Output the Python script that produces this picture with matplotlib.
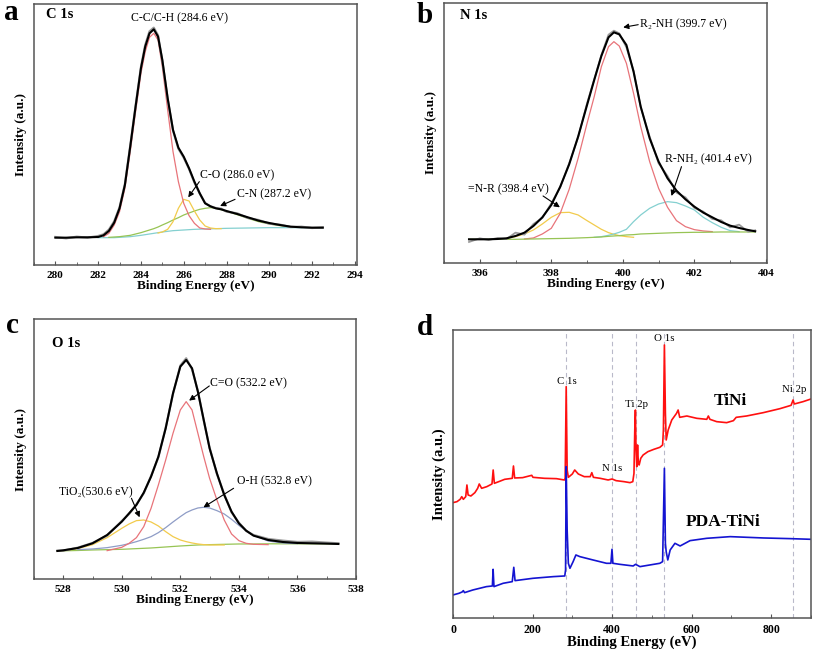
import numpy as np
import matplotlib
matplotlib.use('Agg')
import matplotlib.pyplot as plt
from matplotlib.ticker import MultipleLocator

plt.rcParams['font.family'] = ['Liberation Serif', 'DejaVu Serif']

# ---------------- (a) C 1s ----------------
be_a = [280.0, 280.5, 281.0, 281.5, 282.0, 282.25, 282.5, 282.75, 283.0, 283.25, 283.5, 283.75,
        284.0, 284.2, 284.4, 284.6, 284.8, 285.0, 285.25, 285.5, 285.75, 286.0, 286.25, 286.5,
        286.75, 287.0, 287.25, 287.5, 287.75, 288.0, 288.5, 289.0, 289.5, 290.0, 290.5, 291.0,
        291.5, 292.0, 292.5]
raw_a = [84, 80, 85, 82, 87, 92, 106, 131, 173, 243, 358, 478, 594, 660, 701, 712, 689, 612, 498,
         403, 349, 322, 288, 247, 214, 186, 176, 171, 169, 160, 155, 141, 135, 124, 121, 114, 115,
         111, 113]
fit_a = [82, 82, 83, 83, 84, 89, 102, 127, 170, 240, 355, 475, 590, 655, 695, 707, 685, 615, 500,
         405, 352, 325, 290, 250, 215, 185, 176, 170, 167, 162, 153, 143, 133, 126, 120, 115, 113,
         112, 112]
cc_a = [85, 95, 120, 160, 230, 340, 460, 575, 640, 683, 695, 675, 595, 465, 340, 250, 185, 148,
        125, 111, 108, 107]                      # starts at be_a[5]
co_a = [96, 99, 107, 130, 170, 197, 192, 162, 135, 117, 111, 109, 109]   # starts at be_a[16]
cn_a = [83, 84, 85, 87, 89, 93, 97, 101, 105, 109, 114, 120, 127, 135, 142, 150, 156, 162, 167,
        170, 172, 170, 166, 161, 151, 140, 130, 123, 118, 115]          # starts at be_a[6]
bg_a = [82, 82, 82, 82, 83, 84, 85, 87, 89, 91, 93, 95, 97, 99, 101, 103, 104, 105, 106, 107,
        107.5, 108, 108.5, 109, 109.5, 110, 110.5, 111, 111.5, 112, 112, 112, 112, 112, 112]  # be_a[4]

# ---------------- (b) N 1s ----------------
be_b = [395.7, 396.0, 396.25, 396.5, 396.75, 397.0, 397.25, 397.5, 397.75, 398.0, 398.25, 398.5,
        398.75, 399.0, 399.2, 399.4, 399.6, 399.75, 399.9, 400.1, 400.3, 400.5, 400.75, 401.0,
        401.25, 401.5, 401.75, 402.0, 402.25, 402.5, 402.75, 403.0, 403.25, 403.5, 403.7]
raw_b = [64, 75, 70, 76, 73, 92, 86, 118, 136, 180, 228, 300, 378, 480, 552, 625, 686, 698, 690,
         648, 578, 468, 380, 300, 262, 212, 198, 166, 155, 133, 129, 108, 116, 95, 99]
fit_b = [72, 72, 72, 73, 75, 82, 92, 112, 138, 175, 230, 297, 380, 475, 550, 622, 678, 693, 687,
         655, 575, 470, 375, 305, 255, 218, 192, 170, 152, 138, 124, 113, 106, 100, 96]
r2nh_b = [73, 76, 88, 105, 150, 222, 315, 420, 500, 590, 650, 665, 652, 600, 510, 410, 305, 225,
          168, 128, 110, 101, 97, 95]            # starts at be_b[6]
nr_b = [75, 80, 88, 100, 118, 138, 152, 153, 145, 128, 115, 102, 92, 87, 83, 80, 78]  # be_b[4]
rnh2_b = [78, 80, 84, 88, 93, 102, 125, 145, 165, 178, 185, 182, 172, 160, 138, 122, 108, 98,
          95]                                    # starts at be_b[14]
bg_b = [72, 72, 72, 72, 72, 72, 72.5, 73, 73.5, 74, 74.5, 75, 76, 77, 78, 79, 81, 82, 83, 85, 86,
        88, 89, 90, 91, 92, 92.5, 93, 93, 93.5, 94, 94, 94, 94, 94]

# ---------------- (c) O 1s ----------------
be_c = [527.8, 528.0, 528.5, 529.0, 529.5, 530.0, 530.25, 530.5, 530.75, 531.0, 531.25, 531.5,
        531.75, 532.0, 532.2, 532.4, 532.6, 532.8, 533.0, 533.25, 533.5, 533.75, 534.0, 534.25,
        534.5, 535.0, 535.5, 536.0, 536.5, 537.0, 537.4]
raw_c = [86, 86, 95, 109, 131, 175, 196, 225, 258, 310, 366, 455, 556, 641, 663, 630, 565, 476,
         395, 316, 255, 201, 170, 145, 133, 121, 116, 112, 113, 110, 108]
fit_c = [85, 87, 94, 108, 133, 173, 198, 223, 260, 308, 368, 453, 558, 638, 658, 633, 563, 478,
         393, 318, 253, 203, 168, 146, 131, 118, 112, 109, 108, 107, 106]
co_c = [86, 96, 108, 125, 158, 213, 283, 358, 438, 508, 533, 508, 438, 368, 303, 238, 178, 136,
        116, 108, 105, 104]                      # starts at be_c[4]
tio2_c = [85, 86, 92, 104, 125, 153, 166, 176, 178, 172, 160, 143, 128, 118, 113, 109, 106, 104,
          103, 103, 103]                         # starts at be_c[0]
oh_c = [89, 91, 95, 102, 107, 113, 120, 128, 140, 155, 172, 188, 200, 208, 214, 216, 214, 206,
        196, 180, 162, 145, 132, 115, 109, 107]  # starts at be_c[2]
bg_c = [85, 85.5, 86.5, 88, 89, 90, 91, 92, 93, 94, 95.5, 97, 98.5, 100, 101, 102, 103, 103.5,
        104, 104.5, 105, 105.5, 106, 106, 106, 106.5, 106.5, 106.5, 106.5, 106.5, 106.5]

# ---------------- (d) survey ----------------
be_tini = [0, 10, 18, 22, 26, 32, 35, 38, 45, 55, 62, 66, 72, 85, 98, 101, 104, 115, 130, 149,
           152, 155, 175, 198, 201, 230, 260, 280, 282, 284.6, 287, 290, 300, 306, 315, 330, 345,
           349, 353, 370, 390, 400, 410, 430, 445, 452, 455, 457, 458.6, 460, 462, 464, 466, 468,
           472, 478, 490, 505, 520, 527, 529, 531.5, 534, 536, 541, 550, 562, 566, 570, 588, 613,
           638, 642, 646, 663, 688, 705, 712, 738, 780, 822, 850, 855, 858, 880, 900]
int_tini = [347, 350, 357, 365, 357, 365, 400, 370, 367, 377, 390, 403, 390, 395, 403, 445, 405,
            410, 417, 420, 457, 421, 422, 429, 423, 420, 419, 415, 420, 695, 445, 423, 433, 445,
            433, 425, 425, 437, 423, 420, 415, 418, 413, 410, 407, 410, 435, 565, 625, 515, 455,
            520, 465, 460, 480, 490, 500, 507, 513, 520, 565, 820, 615, 535, 565, 595, 615, 625,
            603, 607, 600, 597, 607, 597, 590, 587, 593, 603, 607, 617, 629, 639, 655, 643, 650,
            658]
be_pda = [0, 15, 23, 26, 29, 50, 84, 99, 100.8, 103, 126, 149, 152.8, 156, 201, 252, 281, 283,
          284.6, 287, 290, 294, 302, 309, 319, 352, 386, 397, 399.7, 402, 419, 453, 459, 470, 495,
          520, 527, 531.5, 534, 536, 540, 546, 558, 571, 596, 638, 697, 781, 848, 900]
int_pda = [70, 75, 79, 83, 77, 85, 95, 97, 147, 95, 105, 110, 153, 113, 120, 125, 127, 145, 455,
           265, 165, 150, 170, 190, 185, 175, 165, 165, 207, 165, 162, 157, 162, 155, 160, 165,
           170, 450, 225, 200, 175, 205, 225, 217, 233, 240, 245, 241, 239, 237]
survey_lines = [284.6, 399.7, 459.0, 530.0, 855.0]
survey_labels = ['C 1s', 'N 1s', 'Ti 2p', 'O 1s', 'Ni 2p']
survey_label_pos = [(287, 710), (399, 448), (462, 642), (531, 840), (859, 687)]

RED = '#e8747a'
YEL = '#f2cb4c'
GRN = '#97c454'
TEAL = '#84d0d0'
SLATE = '#8e9cc6'
FRAME = '#555555'


def part(x, y, start):
    return x[start:start + len(y)], y


def style(ax, xlim, ylim, tick_size, label_size):
    ax.set_xlim(*xlim)
    ax.set_ylim(*ylim)
    ax.set_yticks([])
    ax.tick_params(axis='x', which='both', direction='in', labelsize=tick_size, pad=4,
                   color=FRAME)
    ax.tick_params(axis='x', which='major', length=3)
    ax.tick_params(axis='x', which='minor', length=2)
    for lab in ax.get_xticklabels():
        lab.set_fontweight('bold')
    for sp in ax.spines.values():
        sp.set_color(FRAME)
        sp.set_linewidth(1.1)
    ax.set_xlabel('Binding Energy (eV)', fontsize=label_size, fontweight='bold', labelpad=0)
    ax.set_ylabel('Intensity (a.u.)', fontsize=label_size, fontweight='bold', labelpad=5)


def arrow(ax, head, tail):
    ax.annotate('', xy=head, xytext=tail,
                arrowprops=dict(arrowstyle='-|>', color='black', lw=0.8,
                                mutation_scale=8, shrinkA=0, shrinkB=0))


fig = plt.figure(figsize=(8.13, 6.54), dpi=100)
ax_a = fig.add_axes([0.0418, 0.5948, 0.3973, 0.3991])
ax_b = fig.add_axes([0.5461, 0.5974, 0.3973, 0.3985])
ax_c = fig.add_axes([0.0418, 0.1142, 0.3960, 0.3976])
ax_d = fig.add_axes([0.5572, 0.0546, 0.4403, 0.4408])

ann = 8.5

# (a)
ax = ax_a
ax.plot(*part(be_a, bg_a, 4), color=TEAL, lw=0.9)
ax.plot(*part(be_a, cn_a, 6), color=GRN, lw=0.9)
ax.plot(*part(be_a, co_a, 16), color=YEL, lw=0.9)
ax.plot(*part(be_a, cc_a, 5), color=RED, lw=0.9)
ax.plot(be_a, raw_a, color='#9a9a9a', lw=1.6)
ax.plot(be_a, fit_a, color='black', lw=1.5)
ax.xaxis.set_major_locator(MultipleLocator(2))
ax.xaxis.set_minor_locator(MultipleLocator(1))
style(ax, (279.0, 294.1), (0, 783), 8, 9.5)
ax.text(279.56, 750, 'C 1s', fontsize=10.5, fontweight='bold', va='center')
ax.text(285.82, 740, 'C-C/C-H (284.6 eV)', fontsize=ann, ha='center', va='center')
ax.text(286.76, 268, 'C-O (286.0 eV)', fontsize=ann, va='center')
arrow(ax, (286.21, 203), (286.73, 250))
ax.text(288.51, 213, 'C-N (287.2 eV)', fontsize=ann, va='center')
arrow(ax, (287.70, 177), (288.40, 197))

# (b)
ax = ax_b
ax.plot(*part(be_b, nr_b, 4), color=YEL, lw=0.9)
ax.plot(*part(be_b, rnh2_b, 14), color=TEAL, lw=0.9)
ax.plot(*part(be_b, r2nh_b, 6), color=RED, lw=0.9)
ax.plot(be_b, bg_b, color=GRN, lw=0.9)
ax.plot(be_b, raw_b, color='#9a9a9a', lw=1.3)
ax.plot(be_b, fit_b, color='black', lw=1.5)
ax.xaxis.set_major_locator(MultipleLocator(2))
ax.xaxis.set_minor_locator(MultipleLocator(1))
style(ax, (395.0, 404.03), (0, 782), 8, 9.5)
ax.text(395.44, 745, 'N 1s', fontsize=10.5, fontweight='bold', va='center')
ax.text(400.48, 718, 'R\u2082-NH (399.7 eV)', fontsize=ann, va='center')
arrow(ax, (400.01, 708), (400.43, 716))
ax.text(395.67, 222, '=N-R (398.4 eV)', fontsize=ann, va='center')
arrow(ax, (398.24, 168), (397.77, 202))
ax.text(401.17, 312, 'R-NH\u2082 (401.4 eV)', fontsize=ann, va='center')
arrow(ax, (401.36, 202), (401.64, 290))

# (c)
ax = ax_c
ax.plot(be_c, bg_c, color=GRN, lw=0.9)
ax.plot(*part(be_c, tio2_c, 0), color=YEL, lw=0.9)
ax.plot(*part(be_c, oh_c, 2), color=SLATE, lw=0.9)
ax.plot(*part(be_c, co_c, 4), color=RED, lw=0.9)
ax.plot(be_c, raw_c, color='#9a9a9a', lw=1.6)
ax.plot(be_c, fit_c, color='black', lw=1.5)
ax.xaxis.set_major_locator(MultipleLocator(2))
ax.xaxis.set_minor_locator(MultipleLocator(1))
style(ax, (527.0, 538.0), (0, 780), 8, 9.5)
ax.text(527.63, 708, 'O 1s', fontsize=10.5, fontweight='bold', va='center')
ax.text(533.02, 588, 'C=O (532.2 eV)', fontsize=ann, va='center')
arrow(ax, (532.30, 536), (532.99, 580))
ax.text(533.93, 293, 'O-H (532.8 eV)', fontsize=ann, va='center')
arrow(ax, (532.79, 216), (533.82, 273))
ax.text(527.86, 260, 'TiO\u2082(530.6 eV)', fontsize=ann, va='center')
arrow(ax, (530.61, 186), (530.33, 243))

# (d)
ax = ax_d
for xv in survey_lines:
    ax.axvline(xv, color='#b9b9c9', lw=0.8, ls=(0, (4, 3)), zorder=0)
ax.plot(be_tini, int_tini, color='#ff1010', lw=1.2)
ax.plot(be_pda, int_pda, color='#1414d2', lw=1.2)
for lab, (xv, yv) in zip(survey_labels, survey_label_pos):
    ax.text(xv, yv, lab, fontsize=7.8, ha='center', va='center')
ax.text(697, 653, 'TiNi', fontsize=12.5, fontweight='bold', ha='center', va='center')
ax.text(678, 288, 'PDA-TiNi', fontsize=12.5, fontweight='bold', ha='center', va='center')
ax.xaxis.set_major_locator(MultipleLocator(200))
ax.xaxis.set_minor_locator(MultipleLocator(100))
style(ax, (0, 900), (0, 865), 8.5, 10.5)

# panel letters
for letter, (px, py) in zip('abcd', [(4, 20), (417, 23), (6, 333), (417, 335)]):
    fig.text(px / 813, 1 - py / 654, letter, fontsize=21, fontweight='bold', va='baseline')

fig.savefig('out.png', dpi=100)
